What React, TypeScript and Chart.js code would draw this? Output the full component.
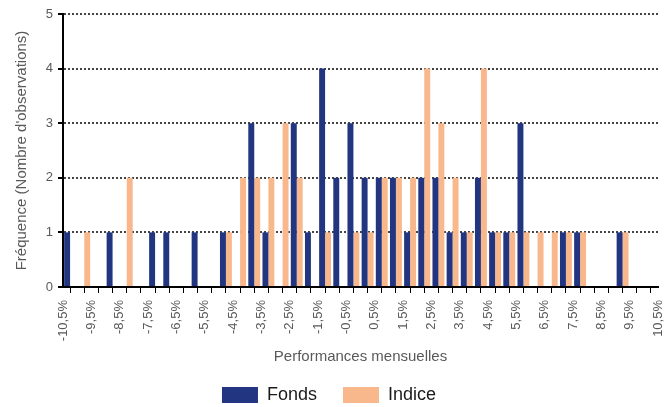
import React, { useEffect, useRef } from "react";
import { Chart, registerables } from "chart.js";

Chart.register(...registerables);

// Bin centres (each bin is 0.5 % wide, from -10.5 % to 10.5 %)
const binCenters = [
  -10.25, -9.75, -9.25, -8.75, -8.25, -7.75, -7.25, -6.75, -6.25, -5.75, -5.25,
  -4.75, -4.25, -3.75, -3.25, -2.75, -2.25, -1.75, -1.25, -0.75, -0.25,
  0.25, 0.75, 1.25, 1.75, 2.25, 2.75, 3.25, 3.75, 4.25, 4.75,
  5.25, 5.75, 6.25, 6.75, 7.25, 7.75, 8.25, 8.75, 9.25, 9.75, 10.25,
];

const fondsValues = [
  1, 0, 0, 1, 0, 0, 1, 1, 0, 1, 0,
  1, 0, 3, 1, 0, 3, 1, 4, 2, 3,
  2, 2, 2, 1, 2, 2, 1, 1, 2, 1,
  1, 3, 0, 0, 1, 1, 0, 0, 1, 0, 0,
];

const indiceValues = [
  0, 1, 0, 0, 2, 0, 0, 0, 0, 0, 0,
  1, 2, 2, 2, 3, 2, 0, 1, 0, 1,
  1, 2, 2, 2, 4, 3, 2, 1, 4, 1,
  1, 1, 1, 1, 1, 1, 0, 0, 1, 0, 0,
];

const xTickLabels = [
  "-10,5%", "-9,5%", "-8,5%", "-7,5%", "-6,5%", "-5,5%", "-4,5%", "-3,5%",
  "-2,5%", "-1,5%", "-0,5%", "0,5%", "1,5%", "2,5%", "3,5%", "4,5%", "5,5%",
  "6,5%", "7,5%", "8,5%", "9,5%", "10,5%",
];

const seriesNames = ["Fonds", "Indice"];
const seriesColors = ["#223580", "#f8b88b"];

const FONT = "'Liberation Sans', Arial, Helvetica, sans-serif";

export default function App() {
  const ref = useRef<HTMLCanvasElement>(null);

  useEffect(() => {
    if (!ref.current) return;
    const toPoints = (vals: number[]) =>
      vals.map((v, i) => ({ x: binCenters[i], y: v }));

    const chart = new Chart(ref.current, {
      type: "bar",
      data: {
        datasets: [
          {
            label: seriesNames[0],
            data: toPoints(fondsValues),
            backgroundColor: seriesColors[0],
            borderWidth: 0,
            categoryPercentage: 0.84,
            barPercentage: 1,
          },
          {
            label: seriesNames[1],
            data: toPoints(indiceValues),
            backgroundColor: seriesColors[1],
            borderWidth: 0,
            categoryPercentage: 0.84,
            barPercentage: 1,
          },
        ],
      },
      options: {
        animation: false,
        responsive: false,
        devicePixelRatio: 1,
        layout: { padding: { top: 14, right: 14, left: 0, bottom: -7 } },
        plugins: {
          legend: {
            position: "bottom",
            labels: {
              boxWidth: 36,
              boxHeight: 16,
              padding: 26,
              color: "#1a1a1a",
              font: { family: FONT, size: 18 },
            },
          },
          tooltip: { enabled: false },
        },
        scales: {
          x: {
            type: "linear",
            offset: false,
            min: -10.5,
            max: 10.5,
            afterFit: (scale: any) => {
              scale.height = 73;
              scale.paddingLeft = 0;
              scale.paddingRight = 0;
            },
            border: { display: true, color: "#000", width: 2 },
            grid: {
              display: true,
              drawOnChartArea: false,
              drawTicks: true,
              tickLength: 6,
              tickColor: "#000",
              tickWidth: 1,
            },
            ticks: {
              stepSize: 0.5,
              autoSkip: false,
              maxRotation: 90,
              minRotation: 90,
              padding: 7,
              color: "#595959",
              font: { family: FONT, size: 13 },
              callback: (value: any) => {
                const k = Number(value) + 10.5;
                if (Math.abs(k - Math.round(k)) < 1e-6) {
                  return xTickLabels[Math.round(k)];
                }
                return "";
              },
            },
            title: {
              display: true,
              text: "Performances mensuelles",
              color: "#595959",
              font: { family: FONT, size: 15, lineHeight: 0.4 },
              padding: { top: 0, bottom: 0 },
            },
          },
          y: {
            min: 0,
            max: 5,
            afterFit: (scale: any) => {
              scale.width = 63;
            },
            border: { display: true, color: "#000", width: 2, dash: [2, 2] },
            grid: {
              color: (ctx: any) =>
                ctx.tick && ctx.tick.value === 0 ? "rgba(0,0,0,0)" : "#444444",
              lineWidth: 2,
              drawTicks: true,
              tickLength: 5,
              tickColor: "#000",
              tickWidth: 2,
              tickBorderDash: [],
            },
            ticks: {
              stepSize: 1,
              padding: 5,
              color: "#595959",
              font: { family: FONT, size: 13 },
            },
            title: {
              display: true,
              text: "Fréquence (Nombre d'observations)",
              color: "#595959",
              font: { family: FONT, size: 15, lineHeight: 1 },
              padding: { top: 14, bottom: 0 },
            },
          },
        },
      },
    });
    return () => chart.destroy();
  }, []);

  return (
    <div style={{ position: "fixed", left: 0, top: 0, width: 672, height: 407, background: "#fff" }}>
      <canvas ref={ref} width={672} height={407} style={{ display: "block" }} />
    </div>
  );
}
